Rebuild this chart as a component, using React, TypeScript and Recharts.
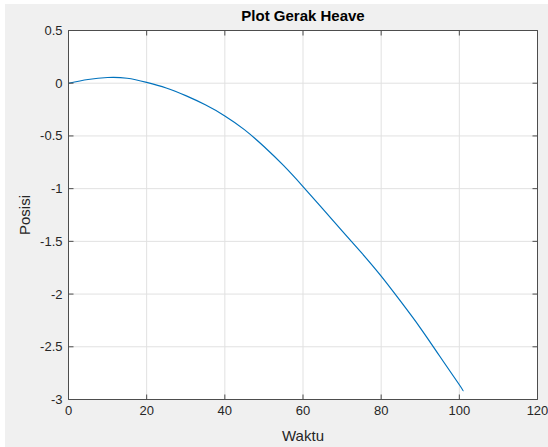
import React from "react";
import { CartesianGrid, Line, LineChart, ReferenceLine, XAxis, YAxis } from "recharts";

const waktu = [0, 5, 10, 15, 20, 25, 30, 35, 40, 45, 50, 55, 60, 65, 70, 75, 80, 85, 90, 95, 100, 101];
const posisi = [
  0, 0.035, 0.054, 0.047, 0.008, -0.045, -0.118, -0.205, -0.31, -0.44, -0.6, -0.78, -0.98, -1.19, -1.4, -1.61,
  -1.83, -2.07, -2.32, -2.59, -2.86, -2.92,
];
const xTicks = [0, 20, 40, 60, 80, 100, 120];
const yTicks = [-3, -2.5, -2, -1.5, -1, -0.5, 0, 0.5];

const W = 548;
const H = 447;
const LEFT = 68.5;
const TOP = 30.5;
const PW = 469;
const PH = 369;
const RIGHT = LEFT + PW;

const axisColor = "#4d4d4d";
const textColor = "#262626";
const font = '"Liberation Sans", Arial, Helvetica, sans-serif';

const data = waktu.map((t, i) => ({ t, y: posisi[i] }));

const renderXTick = ({ x, y, payload }: any) => (
  <g key={`x-${payload.value}`}>
    <line x1={x} x2={x} y1={y} y2={y - 5} stroke={axisColor} />
    <line x1={x} x2={x} y1={TOP} y2={TOP + 5} stroke={axisColor} />
    <text x={x} y={y + 6} dy="0.71em" textAnchor="middle" fontFamily={font} fontSize={13} fill={textColor}>
      {payload.value}
    </text>
  </g>
);

const renderYTick = ({ x, y, payload }: any) => (
  <g key={`y-${payload.value}`}>
    <line x1={x} x2={x + 5} y1={y} y2={y} stroke={axisColor} />
    <line x1={RIGHT} x2={RIGHT - 5} y1={y} y2={y} stroke={axisColor} />
    <text x={x - 6} y={y} dy="0.35em" textAnchor="end" fontFamily={font} fontSize={13} fill={textColor}>
      {payload.value}
    </text>
  </g>
);

export default function App() {
  return (
    <div style={{ position: "absolute", left: 0, top: 0, width: W, height: H, background: "#fff", fontFamily: font }}>
      <div style={{ position: "absolute", left: 5, top: 4, width: W - 5, height: H - 4, background: "#f0f0f0" }} />
      <div style={{ position: "absolute", left: 0, top: 0 }}>
        <LineChart
          width={W}
          height={H}
          data={data}
          margin={{ top: TOP, left: 0, right: W - RIGHT, bottom: 0 }}
        >
          <CartesianGrid stroke="#e1e1e1" fill="#fff" />
          <XAxis
            dataKey="t"
            type="number"
            domain={[0, 120]}
            ticks={xTicks}
            interval={0}
            height={H - TOP - PH}
            tickSize={0}
            tickMargin={0}
            tickLine={false}
            tick={renderXTick}
            axisLine={{ stroke: axisColor }}
          />
          <YAxis
            type="number"
            domain={[-3, 0.5]}
            ticks={yTicks}
            interval={0}
            width={LEFT}
            tickSize={0}
            tickMargin={0}
            tickLine={false}
            tick={renderYTick}
            axisLine={{ stroke: axisColor }}
          />
          <ReferenceLine y={0.5} stroke={axisColor} />
          <ReferenceLine x={120} stroke={axisColor} />
          <Line
            type="natural"
            dataKey="y"
            stroke="#0072BD"
            strokeWidth={1.2}
            dot={false}
            isAnimationActive={false}
          />
        </LineChart>
      </div>
      <div
        style={{
          position: "absolute",
          left: LEFT,
          width: PW,
          top: 8,
          lineHeight: "16px",
          textAlign: "center",
          fontWeight: "bold",
          fontSize: 15,
          color: "#000",
        }}
      >
        Plot Gerak Heave
      </div>
      <div
        style={{
          position: "absolute",
          left: LEFT,
          width: PW,
          top: 428,
          lineHeight: "16px",
          textAlign: "center",
          fontSize: 15,
          color: textColor,
        }}
      >
        Waktu
      </div>
      <div
        style={{
          position: "absolute",
          left: 25 - 40,
          top: 215 - 8,
          width: 80,
          lineHeight: "16px",
          textAlign: "center",
          fontSize: 15,
          color: textColor,
          transform: "rotate(-90deg)",
        }}
      >
        Posisi
      </div>
    </div>
  );
}
